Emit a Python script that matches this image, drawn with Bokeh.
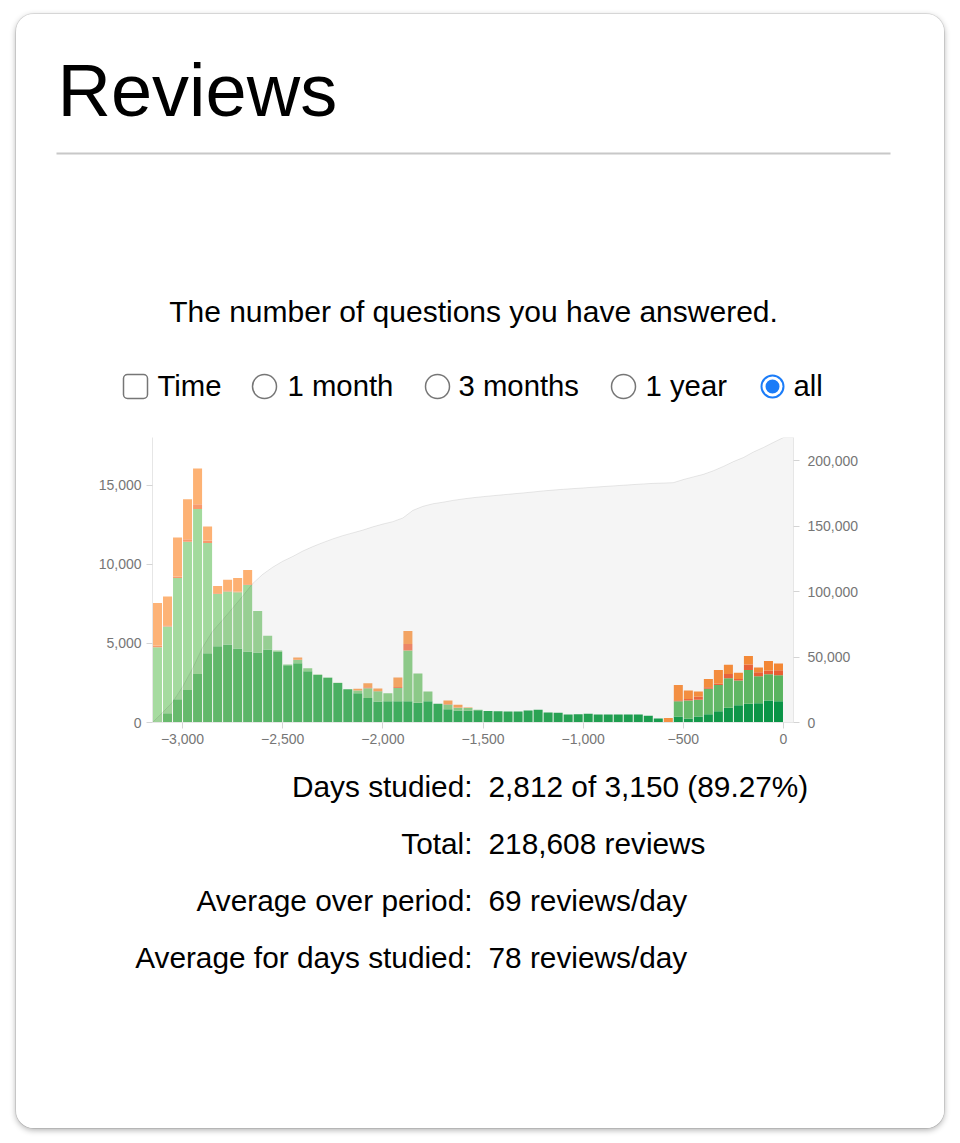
from bokeh.plotting import figure
from bokeh.models import (Range1d, LinearAxis, FixedTicker, NumeralTickFormatter,
                          Label, BoxAnnotation, ColumnDataSource, Spacer)
from bokeh.layouts import column, row
from bokeh.transform import stack
from bokeh.embed import file_html
from bokeh.resources import INLINE

# ---------------- data ----------------
BIN_DAYS = 50
# start day of each 50-day bin (the last bin, starting at day 0, is today's and empty)
BIN_START = list(range(-3150, 50, BIN_DAYS))

MATURE = [30, 590, 1470, 2060, 3070, 4370, 4810, 4920, 4670, 4480,
          4420, 4610, 4480, 3620, 3740, 3240, 3000, 2820, 2500, 2100,
          1850, 1540, 1320, 1345, 1345, 1345, 1240, 1345, 1180, 840,
          760, 760, 780, 730, 715, 690, 690, 760, 800, 630,
          610, 505, 520, 545, 505, 505, 505, 505, 505, 420,
          250, 0, 380, 250, 380, 525, 715, 925, 1090, 1180,
          1220, 1390, 1345, 0]
YOUNG = [4720, 5480, 7650, 9350, 10420, 6960, 3300, 3360, 3550, 4200,
         2620, 870, 60, 40, 210, 180, 30, 20, 10, 0,
         170, 620, 650, 500, 840, 3195, 1850, 610, 0, 295,
         170, 160, 20, 0, 0, 0, 0, 0, 0, 0,
         0, 0, 0, 0, 0, 0, 0, 0, 0, 0,
         0, 0, 965, 1135, 1050, 1600, 1660, 1870, 1555, 2140,
         1700, 1660, 1640, 0]
RELEARN = [120, 80, 100, 170, 290, 170, 60, 80, 60, 50,
           0, 0, 0, 0, 20, 0, 0, 0, 0, 0,
           15, 60, 20, 0, 50, 420, 0, 0, 0, 30,
           25, 0, 0, 0, 0, 0, 0, 0, 0, 0,
           0, 0, 0, 0, 0, 0, 0, 0, 0, 0,
           0, 0, 60, 100, 200, 100, 80, 270, 100, 340,
           250, 230, 315, 0]
LEARN = [2680, 1810, 2460, 2520, 2270, 880, 450, 660, 840, 900,
         0, 0, 0, 0, 140, 0, 0, 0, 0, 0,
         90, 260, 150, 0, 600, 820, 0, 0, 0, 220,
         160, 30, 0, 0, 0, 0, 0, 0, 0, 0,
         0, 0, 0, 0, 0, 0, 0, 0, 0, 0,
         0, 290, 970, 530, 325, 530, 865, 590, 400, 540,
         300, 610, 420, 0]

X_TICKS = [-3000, -2500, -2000, -1500, -1000, -500, 0]
X_TICK_LABELS = ["\u22123,000", "\u22122,500", "\u22122,000", "\u22121,500",
                 "\u22121,000", "\u2212500", "0"]
Y_TICKS = [0, 5000, 10000, 15000]
Y_MAX = 18000
CUM_TICKS = [0, 50000, 100000, 150000, 200000]

TITLE = "Reviews"
SUBTITLE = "The number of questions you have answered."
CHECK_LABEL = "Time"
RADIO_LABELS = ["1 month", "3 months", "1 year", "all"]
SELECTED = "all"
STAT_LABELS = ["Days studied:", "Total:", "Average over period:",
               "Average for days studied:"]
STAT_VALUES = ["2,812 of 3,150 (89.27%)", "218,608 reviews",
               "69 reviews/day", "78 reviews/day"]

# ---------------- style / layout (card pixel coordinates) ----------------
FONT = "Liberation Sans"
W, H = 928, 1114                  # card size
TOP_END, CHART_END = 411, 746     # panel boundaries inside the card
SUB_PX, CTRL_PX, STAT_PX = 30, 29.3, 29.8

LAYERS = ["mature", "young", "relearn", "learn"]
RAMPS = {
    "mature": ["#70c373", "#36ae5d", "#0a9b49"],
    "young": ["#a6dba0", "#8ed08b", "#5ebc64"],
    "relearn": ["#f89d6e", "#f5876a", "#f26236"],
    "learn": ["#fdb377", "#fca863", "#fd8c36"],
}


def _hex(c):
    return [int(c[i:i + 2], 16) for i in (1, 3, 5)]


def ramp(cols, t):
    if t <= 0.5:
        a, b, u = _hex(cols[0]), _hex(cols[1]), t / 0.5
    else:
        a, b, u = _hex(cols[1]), _hex(cols[2]), (t - 0.5) / 0.5
    return "#%02x%02x%02x" % tuple(round(a[k] + (b[k] - a[k]) * u) for k in range(3))


n = len(BIN_START)
data = {
    "x": [s + BIN_DAYS / 2 for s in BIN_START],
    "mature": MATURE, "young": YOUNG, "relearn": RELEARN, "learn": LEARN,
}
for name in LAYERS:
    data["c_" + name] = [ramp(RAMPS[name], min(i / (n - 2), 1.0)) for i in range(n)]
src = ColumnDataSource(data)

totals = [m + y + r + l for m, y, r, l in zip(MATURE, YOUNG, RELEARN, LEARN)]
cum_x = [BIN_START[0]]
cum_y = [0]
run = 0
for s, t in zip(BIN_START, totals):
    run += t
    cum_x.append(s + BIN_DAYS)
    cum_y.append(run)
TOTAL = run


# ---------------- text panels (card px coordinates, y downwards) ----------------
def panel(y0, y1):
    f = figure(width=W, height=y1 - y0, x_range=Range1d(0, W), y_range=Range1d(y1, y0),
               x_axis_type=None, y_axis_type=None, output_backend="svg",
               toolbar_location=None, min_border=0, frame_align=False)
    f.outline_line_color = None
    f.grid.visible = False
    f.background_fill_color = "white"
    f.border_fill_color = "white"
    return f


def label(f, x, baseline, text, size_px, align="left", color="black"):
    # text placed by its middle; the baseline sits ~0.35em below the middle
    f.add_layout(Label(x=x, y=baseline - 0.35 * size_px, text=text, text_font=FONT,
                       text_font_size="%gpx" % size_px, text_color=color,
                       text_align=align, text_baseline="middle"))


def box(f, l, r, t, b, fill, line=None, lw=1.0, radius=0):
    f.add_layout(BoxAnnotation(left=l, right=r, top=t, bottom=b,
                               fill_color=fill, fill_alpha=1,
                               line_color=line, line_width=lw, line_alpha=1,
                               border_radius=int(radius)))


top = panel(0, TOP_END)
label(top, 41, 102, TITLE, 74)
box(top, 40, 874, 138, 140, "#c8c8c8")
label(top, 457, 307.5, SUBTITLE, SUB_PX, align="center")

CTRL_BASE = 381.5
CTRL_CY = 372
box(top, 107, 131, 360, 384, "white", line="#767676", lw=1.5, radius=4)
label(top, 141, CTRL_BASE, CHECK_LABEL, CTRL_PX)
radio_cx = [248, 421, 607, 756]
label_x = [271, 442, 629, 777]
for cx, lx, lab in zip(radio_cx, label_x, RADIO_LABELS):
    if lab == SELECTED:
        box(top, cx - 12, cx + 12, CTRL_CY - 12, CTRL_CY + 12, "#1b7cf8", radius=12)
        box(top, cx - 10, cx + 10, CTRL_CY - 10, CTRL_CY + 10, "white", radius=10)
        box(top, cx - 7, cx + 7, CTRL_CY - 7, CTRL_CY + 7, "#1b7cf8", radius=7)
    else:
        box(top, cx - 12, cx + 12, CTRL_CY - 12, CTRL_CY + 12, "white", line="#767676",
            lw=1.5, radius=12)
    label(top, lx, CTRL_BASE, lab, CTRL_PX)

# ---------------- chart ----------------
FRAME_L, FRAME_R = 136, 777
FRAME_T, FRAME_B = 423, 708
chart = figure(width=W, height=CHART_END - TOP_END,
               x_range=Range1d(BIN_START[0], BIN_START[-1] + BIN_DAYS),
               y_range=Range1d(0, Y_MAX), output_backend="svg", toolbar_location=None,
               min_border_left=FRAME_L, min_border_right=W - FRAME_R,
               min_border_top=FRAME_T - TOP_END, min_border_bottom=CHART_END - FRAME_B,
               frame_align=False)
chart.extra_y_ranges = {"cum": Range1d(0, TOTAL)}
chart.outline_line_color = None
chart.grid.visible = False
chart.background_fill_color = "white"
chart.border_fill_color = "white"

for i, name in enumerate(LAYERS):
    chart.vbar(x="x", width=BIN_DAYS * 0.9, bottom=stack(*LAYERS[:i]),
               top=stack(*LAYERS[:i + 1]), source=src, fill_color="c_" + name,
               line_color=None)

chart.varea(x=cum_x, y1=[0] * len(cum_x), y2=cum_y, y_range_name="cum",
            fill_color="black", fill_alpha=0.04)
chart.line(x=cum_x, y=cum_y, y_range_name="cum", line_color="black",
           line_alpha=0.09, line_width=1)

right = LinearAxis(y_range_name="cum")
chart.add_layout(right, "right")

chart.xaxis.ticker = FixedTicker(ticks=X_TICKS)
chart.xaxis.major_label_overrides = dict(zip(X_TICKS, X_TICK_LABELS))
chart.yaxis[0].ticker = FixedTicker(ticks=Y_TICKS)
chart.yaxis[0].formatter = NumeralTickFormatter(format="0,0")
right.ticker = FixedTicker(ticks=CUM_TICKS)
right.formatter = NumeralTickFormatter(format="0,0")

for ax in [chart.xaxis[0], chart.yaxis[0], right]:
    ax.axis_line_color = "#e6e6e6"
    ax.major_tick_line_color = "#d4d4d4"
    ax.minor_tick_line_color = None
    ax.major_tick_out = 6
    ax.major_tick_in = 0
    ax.major_label_text_font = FONT
    ax.major_label_text_font_size = "14px"
    ax.major_label_text_color = "#767676"
    ax.major_label_standoff = 5
right.major_label_standoff = 8

# ---------------- stats ----------------
bot = panel(CHART_END, H)
rows_base = [782, 839, 896, 953]
for yb, lab, val in zip(rows_base, STAT_LABELS, STAT_VALUES):
    label(bot, 456, yb, lab, STAT_PX, align="right")
    label(bot, 472, yb, val, STAT_PX, align="left")

card = column(top, chart, bot, spacing=0,
              styles={"border-radius": "18px", "overflow": "hidden",
                      "background-color": "white",
                      "box-shadow": "0 0 0 1px rgba(0,0,0,0.09), 0 2px 6px rgba(0,0,0,0.33)"})
layout = column(Spacer(height=14), row(Spacer(width=16), card))

open("out.html", "w").write(file_html(layout, INLINE))
